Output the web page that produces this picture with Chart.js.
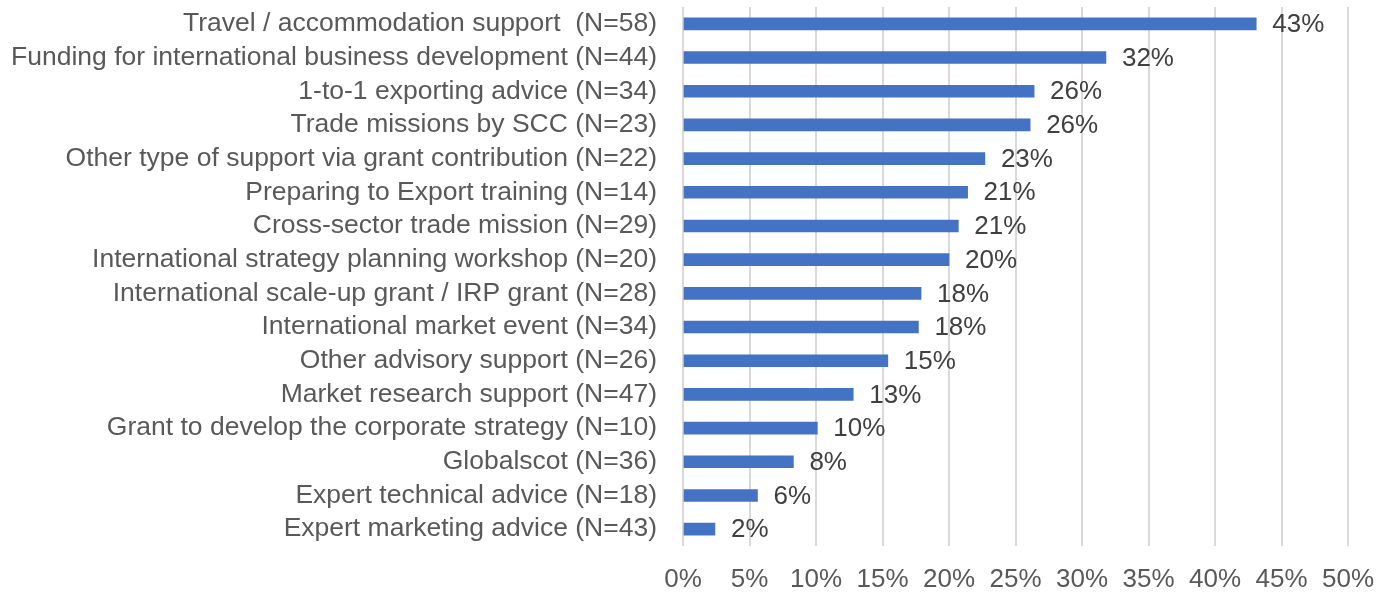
<!DOCTYPE html>
<html>
<head>
<meta charset="utf-8">
<script src="https://cdn.jsdelivr.net/npm/chart.js@4/dist/chart.umd.min.js"></script>
<style>
  html, body { margin: 0; padding: 0; background: #fff; }
  #wrap { width: 1389px; height: 593px; position: relative; }
</style>
</head>
<body>
<div id="wrap"><canvas id="supportChart"></canvas></div>
<script>
const categories = [
  "Travel / accommodation support  (N=58)",
  "Funding for international business development (N=44)",
  "1-to-1 exporting advice (N=34)",
  "Trade missions by SCC (N=23)",
  "Other type of support via grant contribution (N=22)",
  "Preparing to Export training (N=14)",
  "Cross-sector trade mission (N=29)",
  "International strategy planning workshop (N=20)",
  "International scale-up grant / IRP grant (N=28)",
  "International market event (N=34)",
  "Other advisory support (N=26)",
  "Market research support (N=47)",
  "Grant to develop the corporate strategy (N=10)",
  "Globalscot (N=36)",
  "Expert technical advice (N=18)",
  "Expert marketing advice (N=43)"
];
const shares = [43.1, 31.8, 26.4, 26.1, 22.7, 21.4, 20.7, 20.0, 17.9, 17.7, 15.4, 12.8, 10.1, 8.3, 5.6, 2.4];
const xTicks = [0, 5, 10, 15, 20, 25, 30, 35, 40, 45, 50];

const fontFamily = "'Liberation Sans', Arial, sans-serif";

// draws the percentage next to each bar
const valueLabels = {
  id: "valueLabels",
  afterDatasetsDraw(chart) {
    const ctx = chart.ctx;
    const meta = chart.getDatasetMeta(0);
    ctx.save();
    ctx.font = "26px " + fontFamily;
    ctx.fillStyle = "#404040";
    ctx.textAlign = "left";
    ctx.textBaseline = "middle";
    meta.data.forEach((bar, i) => {
      ctx.fillText(Math.round(shares[i]) + "%", bar.x + 16, bar.y + 1);
    });
    ctx.restore();
  }
};

new Chart(document.getElementById("supportChart"), {
  type: "bar",
  data: {
    labels: categories,
    datasets: [
      {
        data: shares,
        backgroundColor: "#4472C4",
        borderWidth: 0,
        barThickness: 12
      }
    ]
  },
  options: {
    indexAxis: "y",
    responsive: true,
    maintainAspectRatio: false,
    animation: false,
    layout: { padding: { top: 7, right: 41, bottom: 0, left: 0 } },
    plugins: {
      legend: { display: false },
      tooltip: { enabled: false }
    },
    scales: {
      x: {
        min: 0,
        max: 50,
        afterBuildTicks(scale) {
          scale.ticks = xTicks.map(v => ({ value: v }));
        },
        afterFit(scale) {
          scale.height = 47;
          scale.paddingLeft = 0;
          scale.paddingRight = 0;
        },
        grid: { color: "#d9d9d9", lineWidth: 2, drawTicks: false },
        border: { display: false },
        ticks: {
          padding: 18,
          color: "#595959",
          maxRotation: 0,
          font: { family: fontFamily, size: 26 },
          callback: v => v + "%"
        }
      },
      y: {
        afterFit(scale) {
          scale.width = 683;
          scale.paddingTop = 0;
          scale.paddingBottom = 0;
        },
        grid: { display: false, drawTicks: false },
        border: { display: false },
        ticks: {
          padding: 26,
          color: "#595959",
          font: { family: fontFamily, size: 26.5 },
          autoSkip: false
        }
      }
    }
  },
  plugins: [valueLabels]
});
</script>
</body>
</html>
